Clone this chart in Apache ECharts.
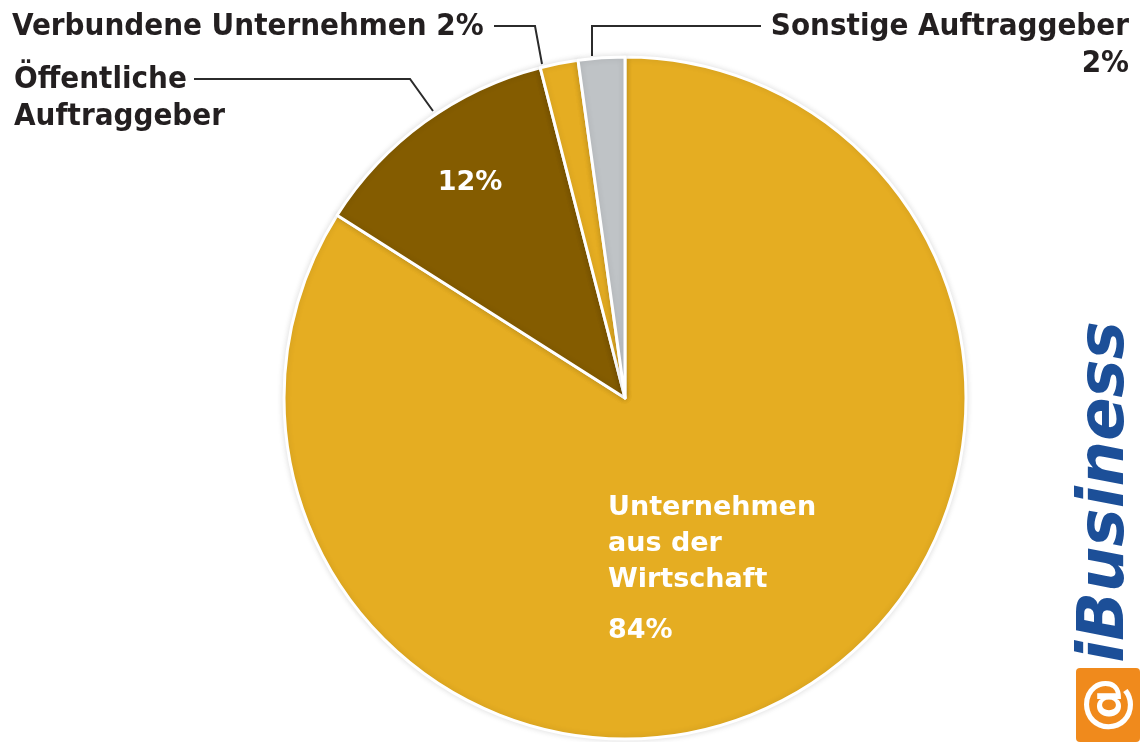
<!DOCTYPE html>
<html>
<head>
<meta charset="utf-8">
<script src="https://cdn.jsdelivr.net/npm/echarts@6/dist/echarts.min.js"></script>
<style>
  html, body { margin: 0; padding: 0; background: #fff; }
  #chart { width: 1140px; height: 742px; }
</style>
</head>
<body>
<div id="chart"></div>
<script>
// slices clockwise from 12 o'clock
const categories = ["Unternehmen aus der Wirtschaft", "Öffentliche Auftraggeber", "Verbundene Unternehmen", "Sonstige Auftraggeber"];
const values = [84, 12, 1.8, 2.2];
const percentLabels = ["84%", "12%", "2%", "2%"];
const colors = ["#e5ad22", "#845c00", "#e5ad22", "#bfc3c6"];

const outerFont = "'DejaVu Sans Condensed', 'DejaVu Sans', sans-serif";
const innerFont = "'DejaVu Sans', sans-serif";

const chart = echarts.init(document.getElementById("chart"));

const pieData = categories.map((name, i) => ({
  name: name,
  value: values[i],
  itemStyle: { color: colors[i] },
}));

// where the outside labels sit and how their leader lines run
const outerLayout = {
  1: { x: 14, y: 61, align: "left", pts: [[433, 111], [410, 79], [194, 79]] },
  2: { x: 12, y: 8, align: "left", pts: [[542, 64], [535, 26], [494, 26]] },
  3: { x: 1129, y: 8, align: "right", pts: [[592, 56], [592, 26], [761, 26]] },
};

chart.setOption({
  backgroundColor: "#ffffff",
  animation: false,
  series: [
    {
      type: "pie",
      center: [625, 398],
      radius: 341,
      startAngle: 90,
      clockwise: true,
      silent: true,
      itemStyle: {
        borderColor: "#ffffff",
        borderWidth: 3,
        shadowBlur: 6,
        shadowColor: "rgba(0,0,0,0.12)",
      },
      label: {
        position: "inside",
        color: "#ffffff",
        fontFamily: innerFont,
        fontWeight: "bold",
        fontSize: 27,
        lineHeight: 36,
        align: "left",
        overflow: "none",
        formatter: (p) => {
          if (p.dataIndex === 0) {
            return "Unternehmen\naus der\nWirtschaft\n{p|" + percentLabels[0] + "}";
          }
          if (p.dataIndex === 1) return percentLabels[1];
          return "";
        },
        rich: {
          p: { color: "#ffffff", fontFamily: innerFont, fontWeight: "bold", fontSize: 27, lineHeight: 66 },
        },
      },
      labelLine: { show: false },
      labelLayout: (p) => {
        if (p.dataIndex === 0) return { x: 608, y: 490, align: "left", verticalAlign: "top" };
        if (p.dataIndex === 1) return { x: 470, y: 183, align: "center", verticalAlign: "middle" };
        return {};
      },
      data: pieData,
    },
    {
      // transparent twin carrying the outside labels
      type: "pie",
      center: [625, 398],
      radius: 341,
      startAngle: 90,
      clockwise: true,
      silent: true,
      itemStyle: { color: "rgba(0,0,0,0)", borderWidth: 0 },
      label: {
        show: true,
        position: "outside",
        color: "#231f20",
        fontFamily: outerFont,
        fontWeight: "bold",
        fontSize: 31,
        lineHeight: 37,
        overflow: "none",
        formatter: (p) => {
          if (p.dataIndex === 1) return "Öffentliche\nAuftraggeber";
          if (p.dataIndex === 2) return p.name + " " + percentLabels[2];
          if (p.dataIndex === 3) return p.name + "\n" + percentLabels[3];
          return "";
        },
      },
      labelLine: {
        show: true,
        lineStyle: { color: "#2b2b2b", width: 2 },
      },
      labelLayout: (p) => {
        const o = outerLayout[p.dataIndex];
        if (!o) return {};
        return { x: o.x, y: o.y, align: o.align, verticalAlign: "top", labelLinePoints: o.pts };
      },
      data: categories.map((name, i) => ({
        name: name,
        value: values[i],
        label: { show: i !== 0 },
        labelLine: { show: i !== 0 },
      })),
    },
  ],
  graphic: [
    {
      type: "rect",
      left: 1076,
      top: 668,
      shape: { width: 64, height: 74, r: 4 },
      style: { fill: "#f08a1c" },
    },
    {
      type: "text",
      x: 1108,
      y: 705,
      rotation: Math.PI / 2,
      style: {
        text: "@",
        fill: "#ffffff",
        font: "bold 56px 'DejaVu Sans', sans-serif",
        align: "center",
        verticalAlign: "middle",
      },
    },
    {
      type: "text",
      x: 1106,
      y: 492,
      rotation: Math.PI / 2,
      style: {
        text: "iBusiness",
        fill: "#1c4f98",
        font: "italic 900 64px 'DejaVu Sans', sans-serif",
        align: "center",
        verticalAlign: "middle",
      },
    },
  ],
});
</script>
</body>
</html>
